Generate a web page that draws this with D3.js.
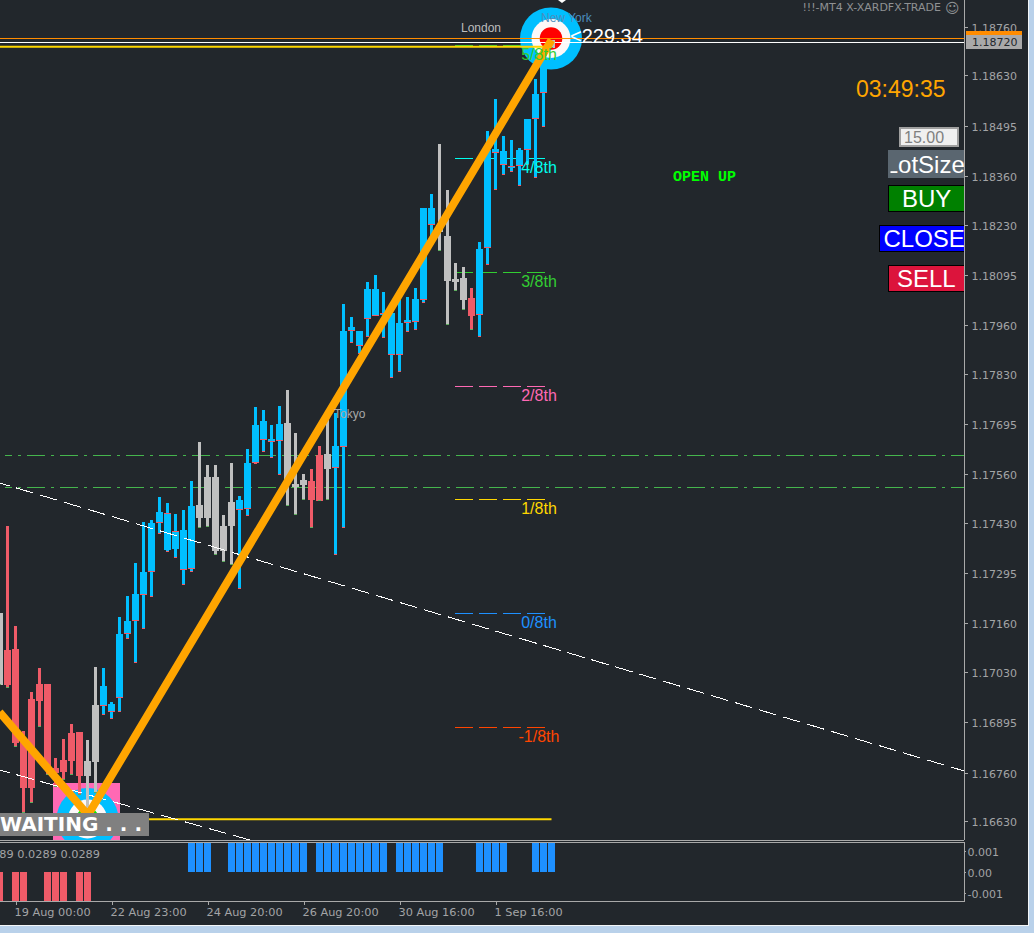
<!DOCTYPE html>
<html>
<head>
<meta charset="utf-8">
<script src="https://cdn.jsdelivr.net/npm/d3@7"></script>
<style>
  html, body { margin: 0; padding: 0; background: #b9d1ea; overflow: hidden; }
  svg { display: block; }
</style>
</head>
<body>
<div id="wrapper"></div>
<script>
// bar number of each candle, first one is cut by the left edge
const bars = d3.range(-1, 69)

const opens = [
  1.17188, 1.17088, 1.17091, 1.16847, 1.16957, 1.16997, 1.16997, 1.16772, 1.16793, 1.16866,
  1.16868, 1.16791, 1.16941, 1.16938, 1.16922, 1.16960, 1.17131, 1.17166, 1.17236, 1.17298,
  1.17429, 1.17453, 1.17405, 1.17303, 1.17306, 1.17478, 1.17553, 1.17553, 1.17421, 1.17486,
  1.17464, 1.17467, 1.17590, 1.17652, 1.17647, 1.17649, 1.17698, 1.17534, 1.17545, 1.17542,
  1.17612, 1.17614, 1.17577, 1.17633, 1.17944, 1.17904, 1.17977, 1.17985, 1.17990, 1.17880,
  1.17880, 1.17966, 1.17969, 1.18028, 1.18229, 1.18229, 1.18199, 1.18084, 1.18087, 1.18033,
  1.17987, 1.18167, 1.18422, 1.18390, 1.18384, 1.18387, 1.18430, 1.18513, 1.18583, 1.18725
]
const highs = [
  1.17188, 1.17421, 1.17153, 1.16871, 1.16976, 1.17040, 1.16997, 1.16799, 1.16850, 1.16890,
  1.16868, 1.16847, 1.17043, 1.17040, 1.16949, 1.17177, 1.17233, 1.17322, 1.17432, 1.17437,
  1.17499, 1.17483, 1.17453, 1.17464, 1.17542, 1.17647, 1.17585, 1.17585, 1.17451, 1.17590,
  1.17502, 1.17628, 1.17740, 1.17732, 1.17692, 1.17743, 1.17786, 1.17671, 1.17561, 1.17574,
  1.17636, 1.17706, 1.17724, 1.18017, 1.17982, 1.17944, 1.18076, 1.18095, 1.18049, 1.18022,
  1.18028, 1.18036, 1.18060, 1.18274, 1.18312, 1.18446, 1.18323, 1.18127, 1.18116, 1.18060,
  1.18183, 1.18481, 1.18567, 1.18468, 1.18457, 1.18435, 1.18513, 1.18620, 1.18720, 1.18725
]
const lows = [
  1.16995, 1.16987, 1.16828, 1.16651, 1.16678, 1.16882, 1.16753, 1.16721, 1.16740, 1.16753,
  1.16699, 1.16651, 1.16705, 1.16914, 1.16903, 1.16922, 1.17118, 1.17054, 1.17145, 1.17231,
  1.17400, 1.17351, 1.17335, 1.17263, 1.17298, 1.17416, 1.17419, 1.17343, 1.17325, 1.17317,
  1.17252, 1.17448, 1.17588, 1.17620, 1.17604, 1.17558, 1.17475, 1.17451, 1.17491, 1.17416,
  1.17488, 1.17491, 1.17343, 1.17416, 1.17912, 1.17883, 1.17928, 1.17985, 1.17926, 1.17818,
  1.17834, 1.17942, 1.17947, 1.18020, 1.18189, 1.18159, 1.17960, 1.18052, 1.18001, 1.17947,
  1.17928, 1.18121, 1.18323, 1.18363, 1.18371, 1.18333, 1.18390, 1.18355, 1.18492, 1.18704
]
const closes = [
  1.16995, 1.16995, 1.16839, 1.16718, 1.16718, 1.16952, 1.16767, 1.16759, 1.16761, 1.16791,
  1.16750, 1.16750, 1.16788, 1.16992, 1.16944, 1.17131, 1.17166, 1.17239, 1.17298, 1.17429,
  1.17459, 1.17357, 1.17359, 1.17410, 1.17475, 1.17443, 1.17443, 1.17354, 1.17354, 1.17421,
  1.17491, 1.17590, 1.17692, 1.17703, 1.17655, 1.17695, 1.17537, 1.17526, 1.17531, 1.17491,
  1.17488, 1.17574, 1.17636, 1.17944, 1.17955, 1.17944, 1.18057, 1.18057, 1.17993, 1.17993,
  1.17966, 1.17974, 1.18030, 1.18274, 1.18274, 1.18210, 1.18079, 1.18076, 1.18028, 1.17985,
  1.18164, 1.18430, 1.18433, 1.18427, 1.18387, 1.18430, 1.18513, 1.18580, 1.18720, 1.18704
]
// u = blue, d = red, n = grey
const trend = [
  "n", "d", "d", "d", "d", "d", "d", "d", "d", "d",
  "d", "n", "n", "u", "u", "u", "u", "u", "u", "u",
  "u", "u", "u", "u", "u", "n", "n", "n", "n", "n",
  "u", "u", "u", "u", "u", "u", "n", "n", "n", "d",
  "d", "n", "u", "u", "u", "u", "u", "u", "u", "u",
  "u", "u", "u", "u", "u", "n", "n", "n", "n", "d",
  "u", "u", "u", "u", "u", "u", "u", "u", "u", "n"
]

const histogram = [
  -0.0289, 0, -0.0289, -0.0289, 0, 0, -0.0289, -0.0289, -0.0289, 0,
  -0.0289, -0.0289, 0, 0, 0, 0, 0, 0, 0, 0,
  0, 0, 0, 0, 0.0289, 0.0289, 0.0289, 0, 0, 0.0289,
  0.0289, 0.0289, 0.0289, 0.0289, 0.0289, 0.0289, 0.0289, 0.0289, 0.0289, 0,
  0.0289, 0.0289, 0.0289, 0.0289, 0.0289, 0.0289, 0.0289, 0.0289, 0.0289, 0,
  0.0289, 0.0289, 0.0289, 0.0289, 0.0289, 0.0289, 0, 0, 0, 0,
  0.0289, 0.0289, 0.0289, 0.0289, 0, 0, 0, 0.0289, 0.0289, 0.0289
]

const priceTicks = [1.18760, 1.18630, 1.18495, 1.18360, 1.18230, 1.18095, 1.17960, 1.17830, 1.17695,
  1.17560, 1.17430, 1.17295, 1.17160, 1.17030, 1.16895, 1.16760, 1.16630]
const indicatorTicks = [0.001, 0, -0.001]
const indicatorTickLabels = ["0.001", "0.00", "-0.001"]
const timeTickBars = [1, 13, 25, 37, 49, 61]
const timeTickLabels = ["19 Aug 00:00", "22 Aug 23:00", "24 Aug 20:00", "26 Aug 20:00", "30 Aug 16:00", "1 Sep 16:00"]

const murreyLevels = [1.18712, 1.18408, 1.18103, 1.17797, 1.17494, 1.17188, 1.16882]
const murreyLabels = ["5/8th", "4/8th", "3/8th", "2/8th", "1/8th", "0/8th", "-1/8th"]
const murreyColors = ["#32cd32", "#00ffee", "#32cd32", "#ff69b4", "#ffd700", "#1e90ff", "#ff4500"]

const zigzagBars = [-1, 10.06, 68]
const zigzagPrices = [1.16922, 1.16646, 1.18725]
const trendBarsA = [-0.94, 119.6]
const trendPricesA = [1.175365, 1.16764]
const trendBarsB = [-0.94, 30.3]
const trendPricesB = [1.167665, 1.16579]

const pivotLevels = [1.17612, 1.17526]
const askLine = 1.18730
const bidLine = 1.18720
const goldTop = 1.18707
const goldBottom = 1.16635
const lastPrice = "1.18720"

function drawChart() {

  // 1. Chart dimensions

  const dimensions = {
    width: 1034,
    height: 933,
    plotRight: 964,
    plotBottom: 840,
    indicatorTop: 842,
    indicatorBottom: 901,
    frameRight: 1028,
    frameBottom: 925,
  }

  const background = "#22272c"
  const axisColor = "#a9a9a9"
  const labelColor = "#a2a4a6"
  const blue = "#00bfff"
  const red = "#ef5b68"
  const grey = "#c0c0c0"
  const sansFont = "'Liberation Sans', Arial, sans-serif"
  const axisFont = "'DejaVu Sans', sans-serif"

  // 2. Draw canvas

  const wrapper = d3.select("#wrapper")
    .append("svg")
      .attr("width", dimensions.width)
      .attr("height", dimensions.height)
      .attr("font-family", sansFont)

  wrapper.append("rect")
      .attr("width", dimensions.width)
      .attr("height", dimensions.height)
      .attr("fill", "#b9d1ea")
  wrapper.append("rect")
      .attr("width", dimensions.frameRight + 1)
      .attr("height", dimensions.frameBottom + 1)
      .attr("fill", "#f4f6f8")
  wrapper.append("rect")
      .attr("width", dimensions.frameRight)
      .attr("height", dimensions.frameBottom)
      .attr("fill", background)

  const defs = wrapper.append("defs")
  defs.append("clipPath").attr("id", "plot-clip")
    .append("rect")
      .attr("width", dimensions.plotRight)
      .attr("height", dimensions.plotBottom)
  defs.append("clipPath").attr("id", "indicator-clip")
    .append("rect")
      .attr("y", dimensions.indicatorTop + 1)
      .attr("width", dimensions.plotRight)
      .attr("height", dimensions.indicatorBottom - dimensions.indicatorTop - 1)

  const plot = wrapper.append("g").attr("clip-path", "url(#plot-clip)")

  // 3. Create scales

  const xScale = d3.scaleLinear()
    .domain([0, 67])
    .range([7.5, 543.5])

  const yScale = d3.scaleLinear()
    .domain([1.18760, 1.16630])
    .range([27, 821])

  const indicatorScale = d3.scaleLinear()
    .domain([0.001, -0.001])
    .range([851, 893])

  const colorScale = d3.scaleOrdinal()
    .domain(["u", "d", "n"])
    .range([blue, red, grey])

  const murreyColor = d3.scaleOrdinal()
    .domain(murreyLabels)
    .range(murreyColors)

  const py = d => Math.round(yScale(d))

  const lineBetween = (barList, priceList) => d3.line()
    .x(i => xScale(barList[i]))
    .y(i => yScale(priceList[i]))(d3.range(barList.length))

  // 4. Target icons

  const drawTarget = (cx, cy, inner) => {
    const icon = plot.append("g")
    const radii = [31, 19.5, 11.3]
    const fills = [blue, "#fdf8f8", inner]
    radii.forEach((r, i) => {
      icon.append("circle")
          .attr("cx", cx)
          .attr("cy", cy)
          .attr("r", r)
          .attr("fill", fills[i])
    })
  }

  plot.append("rect")
      .attr("x", 53)
      .attr("y", 783)
      .attr("width", 67)
      .attr("height", 57)
      .attr("fill", "#ff69b4")
  drawTarget(87.5, 819, "#00ee00")

  // 5. Levels under the candles

  plot.selectAll(".pivot")
    .data(pivotLevels)
    .join("line")
      .attr("class", "pivot")
      .attr("x1", 5)
      .attr("x2", dimensions.plotRight)
      .attr("y1", d => py(d) + 0.5)
      .attr("y2", d => py(d) + 0.5)
      .attr("stroke", "#45b54d")
      .attr("stroke-dasharray", "18 6 3 6")
      .attr("stroke-dashoffset", 11)

  const murreyGroup = plot.append("g")
  murreyGroup.selectAll("line")
    .data(murreyLevels)
    .join("line")
      .attr("x1", 455)
      .attr("x2", 545)
      .attr("y1", d => py(d) + 0.5)
      .attr("y2", d => py(d) + 0.5)
      .attr("stroke", (d, i) => murreyColor(murreyLabels[i]))
      .attr("stroke-dasharray", "18 6")

  // 6. Candles

  const candleData = bars.map((bar, i) => ({
    bar,
    open: opens[i],
    high: highs[i],
    low: lows[i],
    close: closes[i],
    trend: trend[i],
  }))

  const drawCandles = (parent, data) => {
    const candles = parent.append("g")
      .selectAll("g")
      .data(data)
      .join("g")
        .attr("shape-rendering", "crispEdges")

    candles.append("rect")
        .attr("x", d => xScale(d.bar) - 1.5)
        .attr("y", d => py(d.high))
        .attr("width", 3)
        .attr("height", d => Math.max(1, py(d.low) - py(d.high)))
        .attr("fill", d => colorScale(d.trend))

    candles.append("rect")
        .attr("x", d => xScale(d.bar) - 3.5)
        .attr("y", d => py(Math.max(d.open, d.close)))
        .attr("width", 7)
        .attr("height", d => Math.max(2, py(Math.min(d.open, d.close)) - py(Math.max(d.open, d.close))))
        .attr("fill", d => colorScale(d.trend))

    // thin red edge under blue bodies
    candles.filter(d => d.trend == "u")
      .append("rect")
        .attr("x", d => xScale(d.bar) - 3.5)
        .attr("y", d => py(d.open) - 1)
        .attr("width", 7)
        .attr("height", 1)
        .attr("fill", red)

    // small dot at the end of each lower wick
    candles.append("rect")
        .attr("x", d => xScale(d.bar) - 1.5)
        .attr("y", d => py(d.low) - 1)
        .attr("width", 3)
        .attr("height", 1)
        .attr("fill", d => d.trend == "u" ? red : "#5fae5f")
  }

  drawCandles(plot, candleData.slice(0, -1))
  drawTarget(551, 38.5, "#ff0000")
  drawCandles(plot, candleData.slice(-1))

  // 7. Lines over the candles

  plot.append("line")
      .attr("x1", 0)
      .attr("x2", dimensions.plotRight)
      .attr("y1", py(askLine) + 0.5)
      .attr("y2", py(askLine) + 0.5)
      .attr("stroke", "#ff8c00")
  plot.append("line")
      .attr("x1", 0)
      .attr("x2", dimensions.plotRight)
      .attr("y1", py(bidLine) + 0.5)
      .attr("y2", py(bidLine) + 0.5)
      .attr("stroke", "#ffffff")
  plot.append("line")
      .attr("x1", 0)
      .attr("x2", xScale(68) - 1)
      .attr("y1", yScale(goldTop))
      .attr("y2", yScale(goldTop))
      .attr("stroke", "#ffd700")
      .attr("stroke-width", 2)
  plot.append("line")
      .attr("x1", 0)
      .attr("x2", xScale(68))
      .attr("y1", yScale(goldBottom))
      .attr("y2", yScale(goldBottom))
      .attr("stroke", "#ffd700")
      .attr("stroke-width", 2)

  const trendLines = [[trendBarsA, trendPricesA], [trendBarsB, trendPricesB]]
  plot.selectAll(".trend-line")
    .data(trendLines)
    .join("path")
      .attr("class", "trend-line")
      .attr("d", d => lineBetween(d[0], d[1]))
      .attr("fill", "none")
      .attr("stroke", "#ffffff")
      .attr("stroke-dasharray", "18 7")
      .attr("stroke-dashoffset", 8)
      .attr("shape-rendering", "crispEdges")

  plot.append("path")
      .attr("d", lineBetween(zigzagBars, zigzagPrices))
      .attr("fill", "none")
      .attr("stroke", "#ffa500")
      .attr("stroke-width", 8)
      .attr("stroke-linejoin", "miter")

  // 8. Labels inside the plot

  plot.selectAll(".murrey-label")
    .data(murreyLevels)
    .join("text")
      .attr("class", "murrey-label")
      .attr("x", 539)
      .attr("y", d => py(d) + 14.5)
      .attr("text-anchor", "middle")
      .attr("font-size", 16)
      .attr("fill", (d, i) => murreyColor(murreyLabels[i]))
      .text((d, i) => murreyLabels[i])

  const sessionText = (text, x, y, fill) => plot.append("text")
      .attr("x", x)
      .attr("y", y)
      .attr("font-size", 12)
      .attr("fill", fill)
      .text(text)
  sessionText("London", 461, 32, "#bdbdbd")
  sessionText("New York", 541, 22, "#4b8dbd")
  sessionText("Tokyo", 334, 418, "#a8a8a8")

  plot.append("path")
      .attr("d", "M558,0 L562,-3 L566,0 L562,3 Z")
      .attr("fill", "#ffffff")

  plot.append("text")
      .attr("x", 570)
      .attr("y", 43)
      .attr("font-size", 20)
      .attr("fill", "#ffffff")
      .text("<229:34")

  plot.append("text")
      .attr("x", 856)
      .attr("y", 97)
      .attr("font-size", 23)
      .attr("fill", "#ffa500")
      .text("03:49:35")

  plot.append("text")
      .attr("x", 673)
      .attr("y", 181)
      .attr("font-family", "'Liberation Mono', monospace")
      .attr("font-weight", "bold")
      .attr("font-size", 15)
      .attr("fill", "#00ff00")
      .text("OPEN UP")

  plot.append("text")
      .attr("x", 941)
      .attr("y", 11)
      .attr("text-anchor", "end")
      .attr("font-family", axisFont)
      .attr("font-size", 11)
      .attr("fill", "#8f9193")
      .text("!!!-MT4 X-XARDFX-TRADE")

  plot.append("text")
      .attr("x", 945)
      .attr("y", 13)
      .attr("font-family", axisFont)
      .attr("font-size", 14)
      .attr("fill", "#8f9193")
      .text("\u263A")

  // 9. Waiting box

  plot.append("rect")
      .attr("y", 813)
      .attr("width", 149)
      .attr("height", 23)
      .attr("fill", "#808080")
  plot.append("text")
      .attr("x", 0)
      .attr("y", 831)
      .attr("font-family", axisFont)
      .attr("font-weight", "bold")
      .attr("font-size", 20)
      .attr("fill", "#ffffff")
      .text("WAITING . . .")

  // 10. Buttons

  plot.append("rect")
      .attr("x", 900)
      .attr("y", 128)
      .attr("width", 58)
      .attr("height", 18)
      .attr("fill", "#f0f0f0")
      .attr("stroke", "#a0a0a0")
      .attr("stroke-width", 2)
  plot.append("text")
      .attr("x", 904)
      .attr("y", 143)
      .attr("font-size", 16)
      .attr("fill", "#808080")
      .text("15.00")

  const drawButton = (text, x, y, height, fill, stroke, textX, baseline, textClipX) => {
    const clipId = `button-${text}`
    defs.append("clipPath").attr("id", clipId)
      .append("rect")
        .attr("x", textClipX)
        .attr("y", y)
        .attr("width", dimensions.plotRight - textClipX)
        .attr("height", height)
    plot.append("rect")
        .attr("x", x + 0.5)
        .attr("y", y + 0.5)
        .attr("width", dimensions.plotRight - x)
        .attr("height", height - 1)
        .attr("fill", fill)
        .attr("stroke", stroke)
    plot.append("text")
        .attr("clip-path", `url(#${clipId})`)
        .attr("x", textX)
        .attr("y", baseline)
        .attr("font-size", 24)
        .attr("fill", "#ffffff")
        .text(text)
  }
  // the L of LotSize is cut by the button edge, only its foot shows
  drawButton("LotSize", 888, 150, 28, "#5a6670", "#5a6670", 884.7, 173, 890.5)
  drawButton("BUY", 888, 185, 27, "#008000", "#000000", 902, 207, 888)
  drawButton("CLOSE", 879, 225, 27, "#0000ff", "#000000", 883.5, 247, 879)
  drawButton("SELL", 888, 265, 27, "#dc143c", "#000000", 897, 287, 888)

  // 11. Indicator panel

  wrapper.append("g")
      .attr("clip-path", "url(#indicator-clip)")
    .selectAll("rect")
    .data(histogram.map((value, i) => ({ value, bar: bars[i] })).filter(d => d.value != 0))
    .join("rect")
      .attr("x", d => xScale(d.bar) - 3.5)
      .attr("y", d => d.value > 0 ? indicatorScale(d.value) : indicatorScale(0))
      .attr("width", 7)
      .attr("height", d => Math.abs(indicatorScale(d.value) - indicatorScale(0)))
      .attr("fill", d => d.value > 0 ? "#1e90ff" : red)
      .attr("shape-rendering", "crispEdges")

  wrapper.append("text")
      .attr("clip-path", "url(#indicator-clip)")
      .attr("x", 100)
      .attr("y", 858)
      .attr("text-anchor", "end")
      .attr("font-family", axisFont)
      .attr("font-size", 11.3)
      .attr("fill", labelColor)
      .text("0.0289 0.0289 0.0289")

  // 12. Axes

  const priceAxisGenerator = d3.axisRight()
    .scale(yScale)
    .tickValues(priceTicks)
    .tickFormat(d3.format(".5f"))
    .tickSize(3)
    .tickPadding(4)

  const priceAxis = wrapper.append("g")
      .attr("transform", `translate(${dimensions.plotRight + 0.5}, 0)`)
      .call(priceAxisGenerator)

  const indicatorAxisGenerator = d3.axisRight()
    .scale(indicatorScale)
    .tickValues(indicatorTicks)
    .tickFormat((d, i) => indicatorTickLabels[i])
    .tickSize(1)
    .tickPadding(2)

  const indicatorAxis = wrapper.append("g")
      .attr("transform", `translate(${dimensions.plotRight + 0.5}, 0)`)
      .call(indicatorAxisGenerator)

  const timeAxisGenerator = d3.axisBottom()
    .scale(xScale)
    .tickValues(timeTickBars)
    .tickFormat((d, i) => timeTickLabels[i])
    .tickSize(3)
    .tickPadding(3)

  const timeAxis = wrapper.append("g")
      .attr("transform", `translate(0, ${dimensions.indicatorBottom + 0.5})`)
      .call(timeAxisGenerator)

  ;[priceAxis, indicatorAxis, timeAxis].forEach(axis => {
    axis.select(".domain").remove()
    axis.selectAll("line").attr("stroke", axisColor).attr("shape-rendering", "crispEdges")
    axis.selectAll("text")
        .attr("fill", labelColor)
        .attr("font-family", axisFont)
        .attr("font-size", 11)
  })
  priceAxis.selectAll("text").attr("y", 1)
  indicatorAxis.selectAll("text").attr("y", 1)
  timeAxis.selectAll("text")
      .attr("text-anchor", "start")
      .attr("dx", -1.5)
      .attr("font-size", 11.3)

  // 13. Frame lines

  const frameLines = [
    [0, dimensions.plotBottom + 0.5, dimensions.plotRight, dimensions.plotBottom + 0.5],
    [0, dimensions.indicatorTop + 0.5, dimensions.plotRight, dimensions.indicatorTop + 0.5],
    [0, dimensions.indicatorBottom + 0.5, dimensions.plotRight + 1, dimensions.indicatorBottom + 0.5],
    [dimensions.plotRight + 0.5, 0, dimensions.plotRight + 0.5, dimensions.plotBottom],
    [dimensions.plotRight + 0.5, dimensions.indicatorTop, dimensions.plotRight + 0.5, dimensions.indicatorBottom],
  ]
  wrapper.append("g")
    .selectAll("line")
    .data(frameLines)
    .join("line")
      .attr("x1", d => d[0])
      .attr("y1", d => d[1])
      .attr("x2", d => d[2])
      .attr("y2", d => d[3])
      .attr("stroke", axisColor)

  // 14. Current price tags on the axis

  wrapper.append("rect")
      .attr("x", 966)
      .attr("y", 31)
      .attr("width", 56)
      .attr("height", 4)
      .attr("fill", "#ff8c00")
  wrapper.append("rect")
      .attr("x", 966)
      .attr("y", 35)
      .attr("width", 56)
      .attr("height", 14)
      .attr("fill", "#a9a9a9")
  wrapper.append("text")
      .attr("x", 972)
      .attr("y", py(bidLine) + 4)
      .attr("font-family", axisFont)
      .attr("font-size", 11)
      .attr("fill", "#22272c")
      .text(lastPrice)
}
drawChart()
</script>
</body>
</html>
